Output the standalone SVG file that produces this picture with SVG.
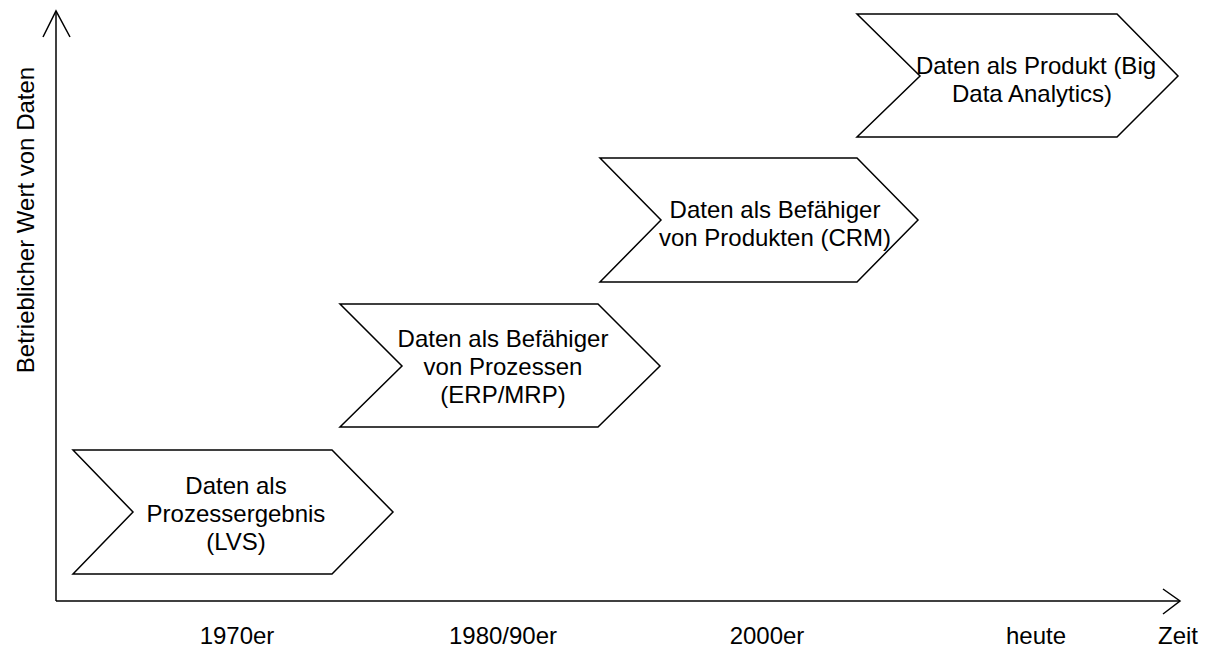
<svg xmlns="http://www.w3.org/2000/svg" width="1207" height="650" viewBox="0 0 1207 650">
<style>
.chev{fill:#fff;stroke:#000;stroke-width:1.5;stroke-linejoin:miter}
.ax{fill:none;stroke:#000;stroke-width:1.5}
text{font-family:"Liberation Sans",Arial,sans-serif;font-size:24px;fill:#000;text-anchor:middle}
</style>
<rect width="1207" height="650" fill="#fff"/>
<g id="connectors">
<path class="ax" d="M56,601 V11"/>
<path class="ax" d="M43,37 L56,11 L70,37"/>
<path class="ax" d="M56,601 H1180"/>
<path class="ax" d="M1163,589 L1180,601 L1163,614"/>
</g>
<g id="axis-labels">
<text transform="translate(34,220) rotate(-90)">Betrieblicher Wert von Daten</text>
<text x="237" y="644">1970er</text>
<text x="503" y="644">1980/90er</text>
<text x="767" y="644">2000er</text>
<text x="1036" y="644">heute</text>
<text x="1178" y="644">Zeit</text>
</g>
<g id="node1">
<polygon class="chev" points="73,450 332,450 393,512 332,574 73,574 133,512"/>
<text x="236" y="494">Daten als</text>
<text x="236" y="522">Prozessergebnis</text>
<text x="236" y="550">(LVS)</text>
</g>
<g id="node2">
<polygon class="chev" points="340,304 598,304 660,366 598,427 340,427 402,366"/>
<text x="503" y="347">Daten als Befähiger</text>
<text x="503" y="375">von Prozessen</text>
<text x="503" y="403">(ERP/MRP)</text>
</g>
<g id="node3">
<polygon class="chev" points="600,158 857,158 918,220 857,282 600,282 661,220"/>
<text x="775" y="218">Daten als Befähiger</text>
<text x="775" y="246">von Produkten (CRM)</text>
</g>
<g id="node4">
<polygon class="chev" points="857,14 1117,14 1178,76 1117,137 857,137 920,76"/>
<text x="1036" y="74">Daten als Produkt (Big</text>
<text x="1032" y="102">Data Analytics)</text>
</g>
</svg>
